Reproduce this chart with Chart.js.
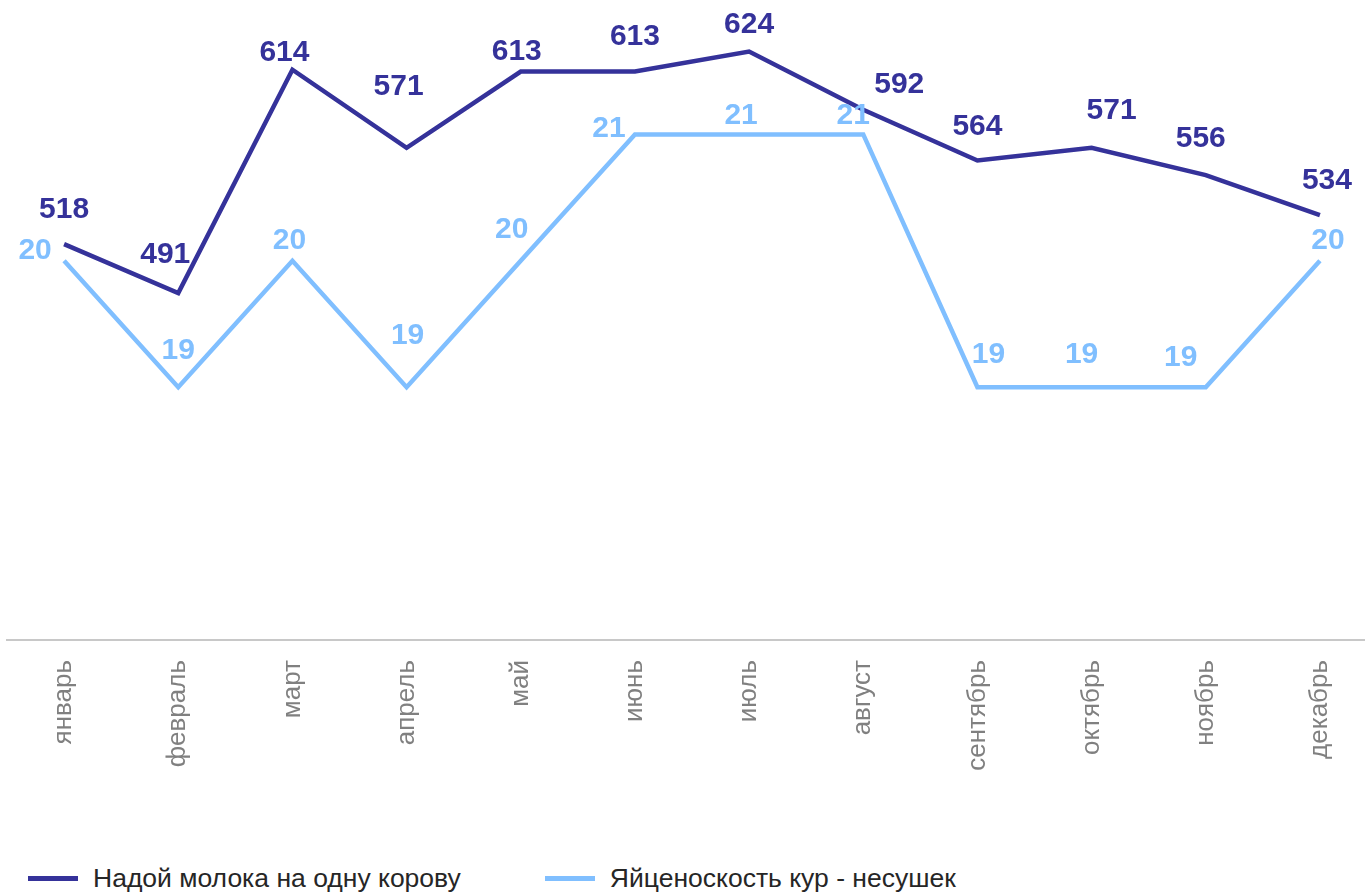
<!DOCTYPE html>
<html>
<head>
<meta charset="utf-8">
<script src="https://cdn.jsdelivr.net/npm/chart.js@4.4.0/dist/chart.umd.min.js"></script>
<style>
  html, body { margin: 0; padding: 0; background: #fff; overflow: hidden; }
  #wrap { position: relative; width: 1380px; height: 894px; }
  #chart-box { position: absolute; left: 0; top: 0; width: 1380px; height: 830px; }
  #legend { position: absolute; left: 28px; top: 863px; font: 26.5px "Liberation Sans", Arial, sans-serif; color: #262626; white-space: nowrap; }
  .item { display: inline-block; margin-right: 84px; }
  .swatch { display: inline-block; width: 50px; height: 5px; vertical-align: middle; margin-right: 15px; position: relative; top: -2px; }
</style>
</head>
<body>
<div id="wrap">
  <div id="chart-box"><canvas id="chart"></canvas></div>
  <div id="legend"></div>
</div>
<script>
  const months = ['январь', 'февраль', 'март', 'апрель', 'май', 'июнь', 'июль', 'август', 'сентябрь', 'октябрь', 'ноябрь', 'декабрь'];
  const milkPerCow = [518, 491, 614, 571, 613, 613, 624, 592, 564, 571, 556, 534];
  const eggsPerHen = [20, 19, 20, 19, 20, 21, 21, 21, 19, 19, 19, 20];
  const seriesNames = ['Надой молока на одну корову', 'Яйценоскость кур - несушек'];

  const DARK = '#35329a';
  const LIGHT = '#80bfff';

  // label offsets from the point, px
  const milkLabelShift = [[0, -34], [-13, -38], [-8, -17], [-8, -61], [-4, -20], [0, -35], [0, -27], [36, -25], [0, -34], [20, -37], [-5, -36], [7, -34]];
  const eggLabelShift = [[-29, -10], [0, -36], [-3, -20], [1, -51], [-9, -31], [-26, -6], [-8, -19], [-10, -19], [11, -32], [-10, -32], [-25, -29], [8, -20]];

  const pointLabels = {
    id: 'pointLabels',
    afterDatasetsDraw(chart) {
      const ctx = chart.ctx;
      ctx.save();
      ctx.font = 'bold 30px "Liberation Sans", Arial, sans-serif';
      ctx.textAlign = 'center';
      ctx.textBaseline = 'middle';
      chart.data.datasets.forEach((ds, i) => {
        const meta = chart.getDatasetMeta(i);
        ctx.fillStyle = ds.borderColor;
        meta.data.forEach((pt, j) => {
          const [dx, dy] = ds.labelShift[j];
          ctx.fillText(String(ds.data[j]), pt.x + dx, pt.y + dy);
        });
      });
      ctx.restore();
    }
  };

  new Chart(document.getElementById('chart').getContext('2d'), {
    type: 'line',
    data: {
      labels: months,
      datasets: [
        {
          label: seriesNames[0],
          data: milkPerCow,
          borderColor: DARK,
          backgroundColor: DARK,
          borderWidth: 4.5,
          pointRadius: 0,
          tension: 0,
          yAxisID: 'yMilk',
          labelShift: milkLabelShift,
        },
        {
          label: seriesNames[1],
          data: eggsPerHen,
          borderColor: LIGHT,
          backgroundColor: LIGHT,
          borderWidth: 4.5,
          pointRadius: 0,
          tension: 0,
          yAxisID: 'yEggs',
          labelShift: eggLabelShift,
        }
      ]
    },
    options: {
      responsive: true,
      maintainAspectRatio: false,
      animation: false,
      layout: { padding: { left: 7, right: 3, top: 8, bottom: 0 } },
      scales: {
        x: {
          offset: true,
          grid: { display: false },
          border: { display: true, color: '#c8c8c8', width: 2 },
          ticks: {
            color: '#808080',
            font: { family: '"Liberation Sans", Arial, sans-serif', size: 26 },
            minRotation: 90,
            maxRotation: 90,
            padding: 12,
            autoSkip: false,
          },
          afterFit(scale) { scale.height = 190; }
        },
        yMilk: { display: false, min: 300, max: 648 },
        yEggs: { display: false, min: 17, max: 22 }
      },
      plugins: {
        legend: { display: false },
        tooltip: { enabled: false }
      }
    },
    plugins: [pointLabels]
  });

  const legend = document.getElementById('legend');
  legend.innerHTML = seriesNames.map((name, i) =>
    `<span class="item"><span class="swatch" style="background:${i === 0 ? DARK : LIGHT}"></span>${name}</span>`
  ).join('');
</script>
</body>
</html>
